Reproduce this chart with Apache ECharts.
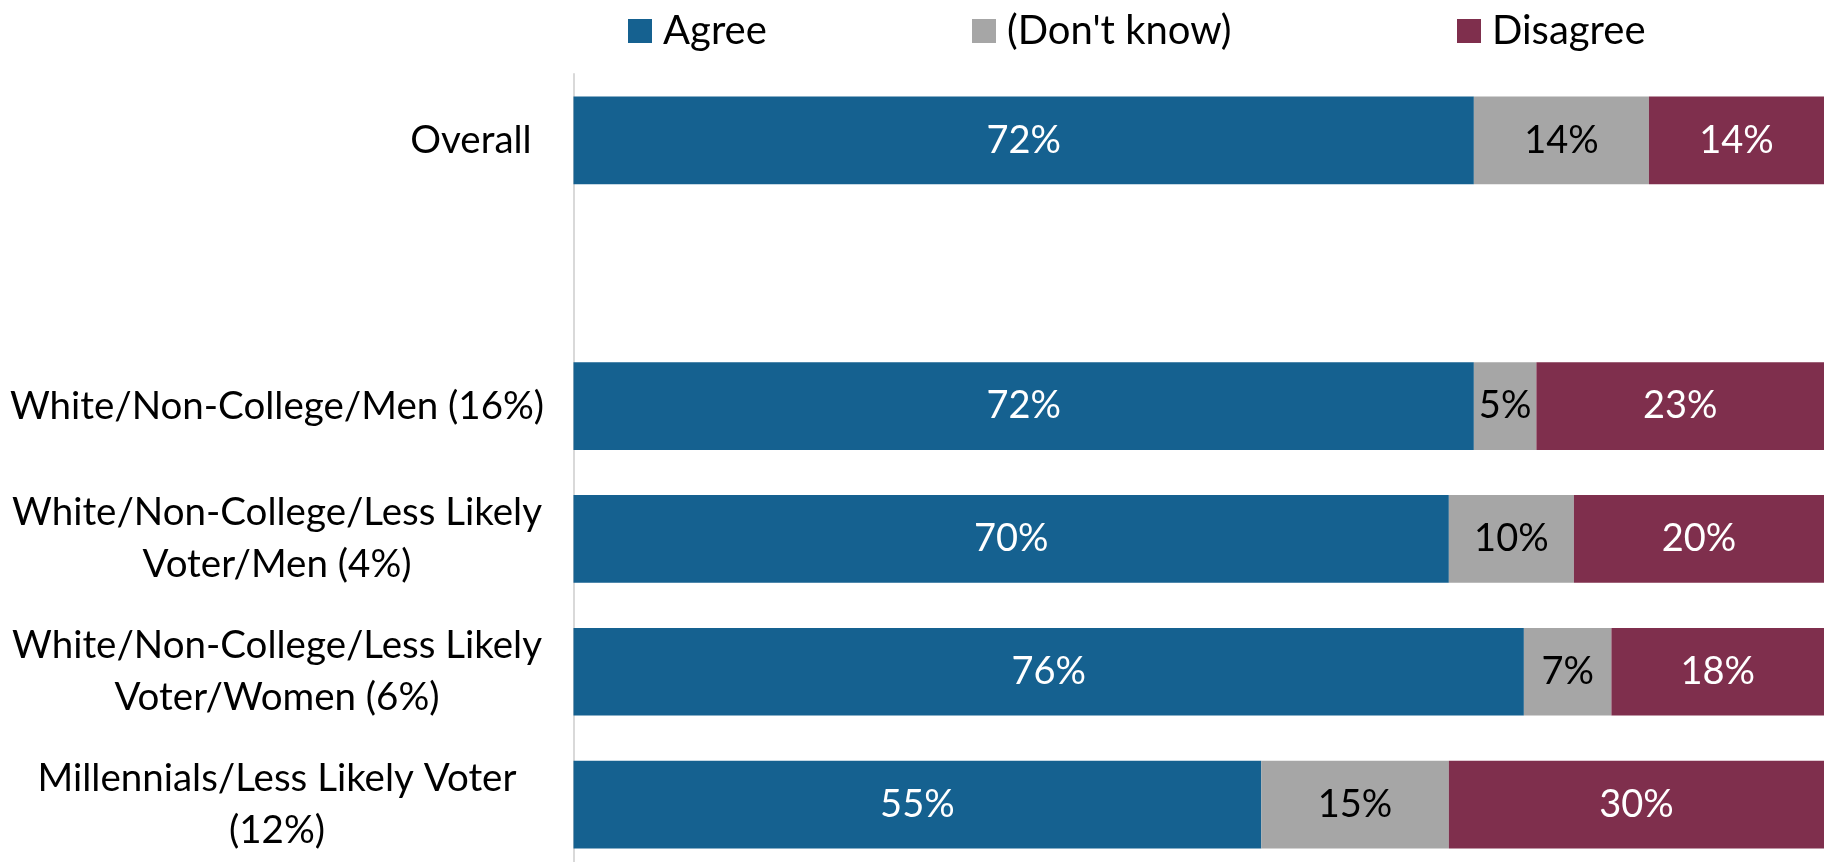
<!DOCTYPE html>
<html>
<head>
<meta charset="utf-8">
<script src="https://cdn.jsdelivr.net/npm/echarts@6/dist/echarts.min.js"></script>
<style>
html,body{margin:0;padding:0;background:#fff;}
#chart{width:1824px;height:862px;}
</style>
</head>
<body>
<div id="chart"></div>
<script>
const categories = [
  'Overall',
  '',
  'White/Non-College/Men (16%)',
  'White/Non-College/Less Likely\nVoter/Men (4%)',
  'White/Non-College/Less Likely\nVoter/Women (6%)',
  'Millennials/Less Likely Voter\n(12%)'
];
const agree    = [72, null, 72, 70, 76, 55];
const dontKnow = [14, null, 5, 10, 7, 15];
const disagree = [14, null, 23, 20, 18, 30];
const seriesNames = ['Agree', "(Don't know)", 'Disagree'];

const colors = ['#156190', '#a6a6a6', '#7f2f4d'];
const labelColors = ['#ffffff', '#000000', '#ffffff'];
const FONT = 'Lato';

const chart = echarts.init(document.getElementById('chart'), null, {renderer: 'canvas'});

function mkSeries(name, data, i) {
  return {
    name: name,
    type: 'bar',
    stack: 'total',
    data: data,
    barCategoryGap: '34%',
    itemStyle: {color: colors[i]},
    label: {
      show: true,
      position: 'inside',
      color: labelColors[i],
      fontFamily: FONT,
      fontSize: 38,
      formatter: p => (p.value == null ? '' : p.value + '%')
    },
    emphasis: {disabled: true}
  };
}

const legendBase = {
  top: 6,
  itemWidth: 24,
  itemHeight: 24,
  icon: 'rect',
  textStyle: {fontFamily: FONT, fontSize: 40, color: '#000', padding: [0, 0, 0, 6]},
  itemGap: 0,
  selectedMode: false
};

chart.setOption({
  animation: false,
  color: colors,
  legend: [
    Object.assign({}, legendBase, {data: [seriesNames[0]], left: 623}),
    Object.assign({}, legendBase, {data: [seriesNames[1]], left: 967}),
    Object.assign({}, legendBase, {data: [seriesNames[2]], left: 1452})
  ],
  grid: {left: 573.5, right: 0, top: 74, height: 797, containLabel: false, outerBoundsMode: 'none'},
  xAxis: {
    type: 'value',
    min: 0,
    max: 100,
    show: false
  },
  yAxis: {
    type: 'category',
    data: categories,
    inverse: true,
    axisLine: {show: true, lineStyle: {color: '#d9d9d9', width: 2}},
    axisTick: {show: false},
    axisLabel: {
      margin: 296.5,
      fontFamily: FONT,
      fontSize: 38.5,
      color: '#000',
      lineHeight: 52,
      align: 'center',
      formatter: v => v === 'Overall'
        ? '{o|' + v + '}'
        : v.split('\n').map(s => '{c|' + s + '}').join('\n'),
      rich: {
        c: {align: 'center', fontFamily: FONT, fontSize: 38.5, lineHeight: 52, color: '#000'},
        o: {align: 'center', fontFamily: FONT, fontSize: 38.5, lineHeight: 52, color: '#000', padding: [0, 0, 0, 388]}
      }
    }
  },
  series: [
    mkSeries(seriesNames[0], agree, 0),
    mkSeries(seriesNames[1], dontKnow, 1),
    mkSeries(seriesNames[2], disagree, 2)
  ]
});
</script>
</body>
</html>
